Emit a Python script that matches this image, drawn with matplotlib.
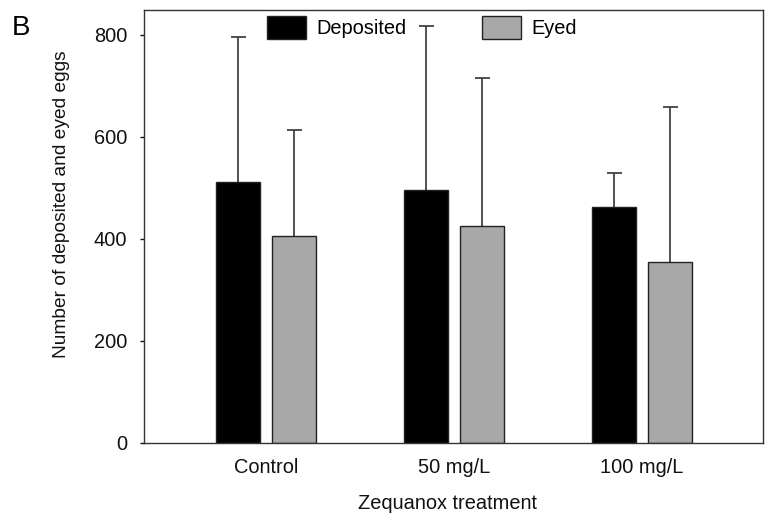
import numpy as np
import matplotlib
matplotlib.use("Agg")
import matplotlib.pyplot as plt

plt.rcParams['font.family'] = ['Liberation Sans', 'DejaVu Sans']

treatments = ["Control", "50 mg/L", "100 mg/L"]
deposited = [512, 496, 462]
deposited_sd = [284, 322, 67]
eyed = [406, 426, 355]
eyed_sd = [208, 289, 304]

fs = 14.4
edge = '#222222'
errc = '#333333'

fig = plt.figure(figsize=(7.74, 5.14), dpi=100)
ax = fig.add_axes([144/774, 1 - 443/514, (763 - 144)/774, (443 - 10)/514])

x = np.arange(len(treatments))
w = 0.234
off = 0.151

ax.bar(x - off, deposited, w, color='black', edgecolor=edge, linewidth=1.0,
       label='Deposited', zorder=2)
ax.bar(x + off, eyed, w, color='#a8a8a8', edgecolor=edge, linewidth=1.0,
       label='Eyed', zorder=2)
for xs, m, sd in [(x - off, deposited, deposited_sd), (x + off, eyed, eyed_sd)]:
    eb = ax.errorbar(xs, m, yerr=[np.zeros(len(m)), sd], fmt='none',
                     ecolor=errc, elinewidth=1.2, capsize=5.4, capthick=1.2,
                     zorder=1)
    # only the upper cap is wanted
    eb[1][0].set_visible(False)

ax.set_xlim(-0.649, 2.644)
ax.set_ylim(0, 849)
ax.set_yticks([0, 200, 400, 600, 800])
ax.set_xticks(x)
ax.set_xticklabels(treatments)
ax.tick_params(axis='x', length=0, pad=10.5, labelsize=fs, colors='#111111')
ax.tick_params(axis='y', direction='out', length=3, width=1, pad=9,
               labelsize=fs, colors='#111111')
for s in ax.spines.values():
    s.set_color('#333333')
    s.set_linewidth(1.0)

ax.set_ylabel('Number of deposited and eyed eggs', fontsize=13.8,
              color='#111111')
ax.yaxis.set_label_coords(-0.12, 0.552)
ax.set_xlabel('Zequanox treatment', fontsize=fs, color='#111111')
ax.xaxis.set_label_coords(0.49, -0.118)

ax.legend(loc='upper left', bbox_to_anchor=(0.199, 0.986), ncol=2,
          frameon=False, fontsize=fs, handlelength=1.95, handleheight=1.4,
          handletextpad=0.5, columnspacing=3.8, borderpad=0, borderaxespad=0)

fig.text(12/774, 1 - 35/514, 'B', fontsize=20, ha='left', va='baseline')

fig.savefig('out.png', dpi=100)
